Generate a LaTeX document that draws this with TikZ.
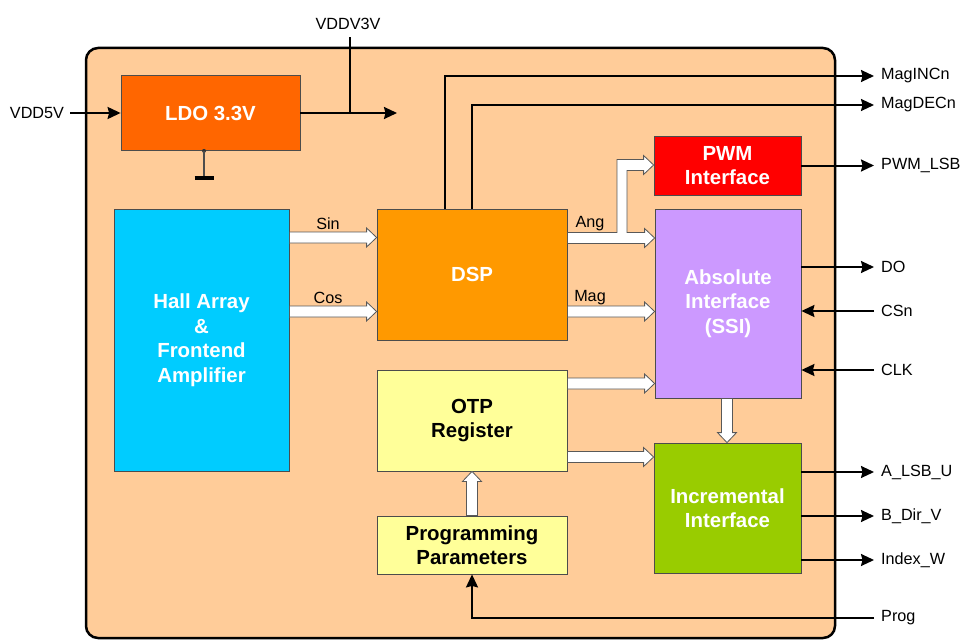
\documentclass[tikz,border=0pt]{standalone}
\usepackage{fontspec}
\setmainfont{Liberation Sans}
\usetikzlibrary{arrows.meta,calc}

\definecolor{peach}{HTML}{FFCC99}
\definecolor{ldocol}{HTML}{FF6600}
\definecolor{hallcol}{HTML}{00CCFF}
\definecolor{dspcol}{HTML}{FF9900}
\definecolor{pwmcol}{HTML}{FF0000}
\definecolor{abscol}{HTML}{CC99FF}
\definecolor{otpcol}{HTML}{FFFF99}
\definecolor{inccol}{HTML}{99CC00}

\tikzset{
	blk/.style={draw=black!70, line width=0.8pt, inner sep=0pt, align=center,
		text=white, font=\fontsize{20.4}{24.5}\selectfont\bfseries},
	sig/.style={line width=2pt, -{Stealth[length=13pt,width=12pt,inset=1.5pt]}},
	fat/.style={draw=black!65, line width=0.8pt, fill=white},
	lbl/.style={anchor=west, inner sep=7pt, font=\fontsize{16.2}{19}\selectfont},
	tag/.style={inner sep=0pt, font=\fontsize{16.2}{19}\selectfont},
}

% hollow arrows: from node #1 to node #2 at height #3 (or x = #3)
\newcommand\fatright[3]{\draw[fat] let \p1=(#1.east), \p2=(#2.west), \p3=(0,#3) in
	(\x1,\y3-5.5) -- (\x1,\y3+5.5) -- (\x2-10,\y3+5.5) -- (\x2-10,\y3+9.5) -- (\x2,\y3)
	-- (\x2-10,\y3-9.5) -- (\x2-10,\y3-5.5) -- cycle;}
\newcommand\fatdown[3]{\draw[fat] let \p1=(#1.south), \p2=(#2.north), \p3=(#3,0) in
	(\x3-5.5,\y1) -- (\x3-5.5,\y2+10) -- (\x3-9.5,\y2+10) -- (\x3,\y2) -- (\x3+9.5,\y2+10)
	-- (\x3+5.5,\y2+10) -- (\x3+5.5,\y1) -- cycle;}
\newcommand\fatup[3]{\draw[fat] let \p1=(#1.north), \p2=(#2.south), \p3=(#3,0) in
	(\x3-5.5,\y1) -- (\x3-5.5,\y2-10) -- (\x3-9.5,\y2-10) -- (\x3,\y2) -- (\x3+9.5,\y2-10)
	-- (\x3+5.5,\y2-10) -- (\x3+5.5,\y1) -- cycle;}

\begin{document}
\begin{tikzpicture}[x=1pt,y=-1pt]
\useasboundingbox (0,0) rectangle (963,642);

% chip outline
\draw[fill=peach, line width=2.5pt, rounded corners=12pt] (86,48) rectangle (835,638);

% blocks
\node[blk, fill=ldocol, minimum width=179, minimum height=75] (ldo) at (210.5,113) {LDO 3.3V};
\node[blk, fill=hallcol, minimum width=175, minimum height=262] (hall) at (201.5,340) {Hall Array\\\&\\Frontend\\Amplifier};
\node[blk, fill=dspcol, minimum width=190, minimum height=131] (dsp) at (472,274.5) {DSP};
\node[blk, fill=pwmcol, minimum width=147, minimum height=59] (pwm) at (727.5,165.5) {PWM\\Interface};
\node[blk, fill=abscol, minimum width=146, minimum height=189] (abs) at (728,303.5) {Absolute\\Interface\\(SSI)};
\node[blk, fill=otpcol, text=black, minimum width=190, minimum height=101] (otp) at (472,420.5) {OTP\\Register};
\node[blk, fill=otpcol, text=black, minimum width=190, minimum height=58] (pp) at (472,545) {Programming\\Parameters};
\node[blk, fill=inccol, minimum width=147, minimum height=130] (inc) at (727.5,508) {Incremental\\Interface};

% supply
\node[tag] (vdd5) at (37,113) {VDD5V};
\node[tag] (vdd33) at (348,24) {VDDV3V};
\coordinate (tap) at (350,113);
\coordinate (v3out) at (397,113);
\draw[sig, shorten <=6pt] (vdd5.east) -- (ldo.west);
\draw[sig] (ldo.east) -- (v3out);
\draw[line width=2pt] (tap) -- ([yshift=-7pt]vdd33.south -| tap);

% ground
\coordinate (gnd) at ($(ldo.south)+(-6.5,27)$);
\fill[black!80] (ldo.south -| gnd) circle (2pt);
\draw[black!70, line width=1.2pt] (ldo.south -| gnd) -- (gnd);
\draw[line width=4pt] ($(gnd)+(-9.5,0)$) -- ($(gnd)+(9.5,0)$);

% data paths
\fatright{hall}{dsp}{237.5}
\fatright{hall}{dsp}{311.5}
\fatright{dsp}{abs}{311.5}
\fatright{otp}{abs}{383.5}
\fatright{otp}{inc}{457}
\fatdown{abs}{inc}{727}
\fatup{pp}{otp}{472}

\draw[fat] let \p1=(dsp.east), \p2=(abs.west), \p3=(pwm.west), \p4=(0,238), \p5=(0,165), \p6=(622,0) in
	(\x1,\y4-5.5) -- (\x1,\y4+5.5) -- (\x6-5,\y4+5.5) -- (\x6-5,\y5+5.5) -- (\x3-10,\y5+5.5)
	-- (\x3-10,\y5+9.5) -- (\x3,\y5) -- (\x3-10,\y5-9.5) -- (\x3-10,\y5-5.5) -- (\x6+5,\y5-5.5)
	-- (\x6+5,\y4+5.5) -- (\x2-10,\y4+5.5) -- (\x2-10,\y4+9.5) -- (\x2,\y4) -- (\x2-10,\y4-9.5)
	-- (\x2-10,\y4-5.5) -- cycle;

\node[tag] (sin) at (328,224) {Sin};
\node[tag] (cos) at (328,298) {Cos};
\node[tag] (ang) at (590,224) {Ang};
\node[tag] (mag) at (590,298) {Mag};

% outputs
\node[lbl] (maginc) at (874,76) {MagINCn};
\node[lbl] (magdec) at (874,105) {MagDECn};
\draw[sig] ([xshift=-27pt]dsp.north) |- (maginc.west);
\draw[sig] (dsp.north) |- (magdec.west);

\foreach \n/\t/\y/\b in {pwmlsb/PWM\_LSB/165.5/pwm, do/DO/267/abs, alsb/A\_LSB\_U/472/inc, bdir/B\_Dir\_V/516/inc, idx/Index\_W/560/inc}
{
	\node[lbl] (\n) at (874,\y) {\t};
	\draw[sig] (\b.east |- \n.west) -- (\n.west);
};

% inputs
\foreach \n/\t/\y in {csn/CSn/311, clk/CLK/370}
{
	\node[lbl] (\n) at (874,\y) {\t};
	\draw[sig] (\n.west) -- (abs.east |- \n.west);
};

\node[lbl] (prog) at (874,618) {Prog};
\draw[sig] (prog.west) -| (pp.south);
\end{tikzpicture}
\end{document}
